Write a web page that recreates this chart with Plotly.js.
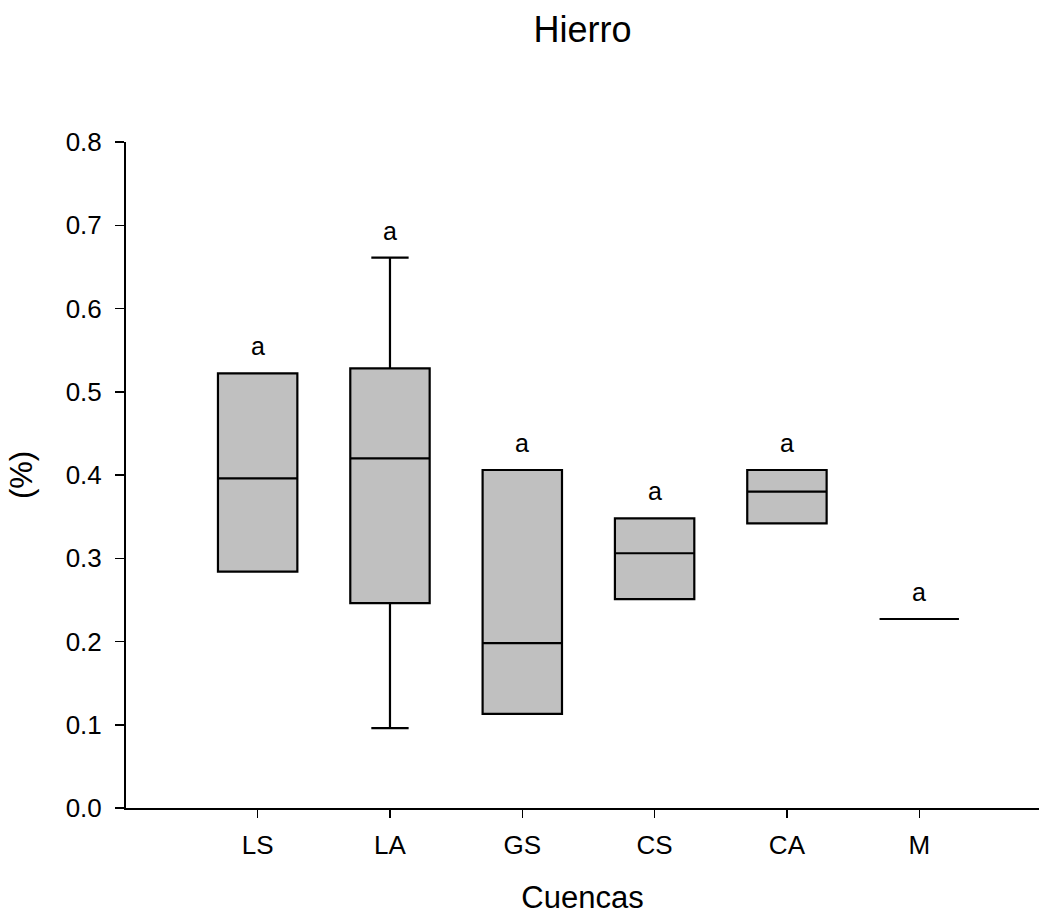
<!DOCTYPE html>
<html>
<head>
<meta charset="utf-8">
<script src="https://cdn.plot.ly/plotly-3.0.1.min.js"></script>
<style>
  html, body { margin: 0; padding: 0; background: #ffffff; overflow: hidden; }
  #chart { width: 1039px; height: 915px; }
</style>
</head>
<body>
<div id="chart"></div>
<script>
// ---- Data ----
const categories = ['LS', 'LA', 'GS', 'CS', 'CA', 'M'];
const lowerWhisker = [0.284, 0.096, 0.113, 0.251, 0.342, 0.227];
const q1Values     = [0.284, 0.246, 0.113, 0.251, 0.342, 0.227];
const medianValues = [0.396, 0.420, 0.198, 0.306, 0.380, 0.227];
const q3Values     = [0.522, 0.528, 0.406, 0.348, 0.406, 0.227];
const upperWhisker = [0.522, 0.661, 0.406, 0.348, 0.406, 0.227];
const groupLetters = ['a', 'a', 'a', 'a', 'a', 'a'];
const yTickValues  = [0, 0.1, 0.2, 0.3, 0.4, 0.5, 0.6, 0.7, 0.8];
const yTickLabels  = ['0.0', '0.1', '0.2', '0.3', '0.4', '0.5', '0.6', '0.7', '0.8'];

const FONT = '"Liberation Sans", Arial, Helvetica, sans-serif';

const trace = {
  type: 'box',
  x: categories,
  q1: q1Values,
  median: medianValues,
  q3: q3Values,
  lowerfence: lowerWhisker,
  upperfence: upperWhisker,
  width: 0.6,
  whiskerwidth: 0.47,
  fillcolor: '#c0c0c0',
  line: { color: '#000000', width: 2.2 },
  boxpoints: false,
  hoverinfo: 'skip',
  showlegend: false
};

const annotations = categories.map((c, i) => ({
  x: c,
  y: upperWhisker[i],
  xref: 'x',
  yref: 'y',
  text: groupLetters[i],
  showarrow: false,
  xanchor: 'center',
  yanchor: 'middle',
  yshift: 27,
  font: { family: FONT, size: 25, color: '#000000' }
}));

const layout = {
  width: 1039,
  height: 915,
  paper_bgcolor: '#ffffff',
  plot_bgcolor: '#ffffff',
  margin: { l: 126, r: 0, t: 142, b: 107, pad: 0 },
  font: { family: FONT, color: '#000000' },
  title: {
    text: 'Hierro',
    font: { family: FONT, size: 36, color: '#000000' },
    x: 0.5,
    xref: 'paper',
    xanchor: 'center',
    y: 0.968,
    yref: 'container',
    yanchor: 'middle'
  },
  xaxis: {
    type: 'category',
    range: [-0.995, 5.905],
    showgrid: false,
    zeroline: false,
    showline: true,
    linecolor: '#000000',
    linewidth: 2,
    ticks: 'outside',
    ticklen: 8,
    tickwidth: 1.5,
    tickcolor: '#000000',
    tickfont: { family: FONT, size: 26, color: '#000000' },
    ticklabelstandoff: 5,
    title: {
      text: 'Cuencas',
      font: { family: FONT, size: 31, color: '#000000' },
      standoff: 30
    },
    automargin: false,
    fixedrange: true
  },
  yaxis: {
    range: [0, 0.8],
    tickvals: yTickValues,
    ticktext: yTickLabels,
    showgrid: false,
    zeroline: false,
    showline: true,
    linecolor: '#000000',
    linewidth: 2,
    ticks: 'outside',
    ticklen: 9,
    tickwidth: 1.5,
    tickcolor: '#000000',
    tickfont: { family: FONT, size: 26, color: '#000000' },
    ticklabelstandoff: 8,
    title: {
      text: '(%)',
      font: { family: FONT, size: 31, color: '#000000' },
      standoff: 24
    },
    automargin: false,
    fixedrange: true
  },
  annotations: annotations
};

Plotly.newPlot('chart', [trace], layout, { displayModeBar: false, staticPlot: true });
</script>
</body>
</html>
